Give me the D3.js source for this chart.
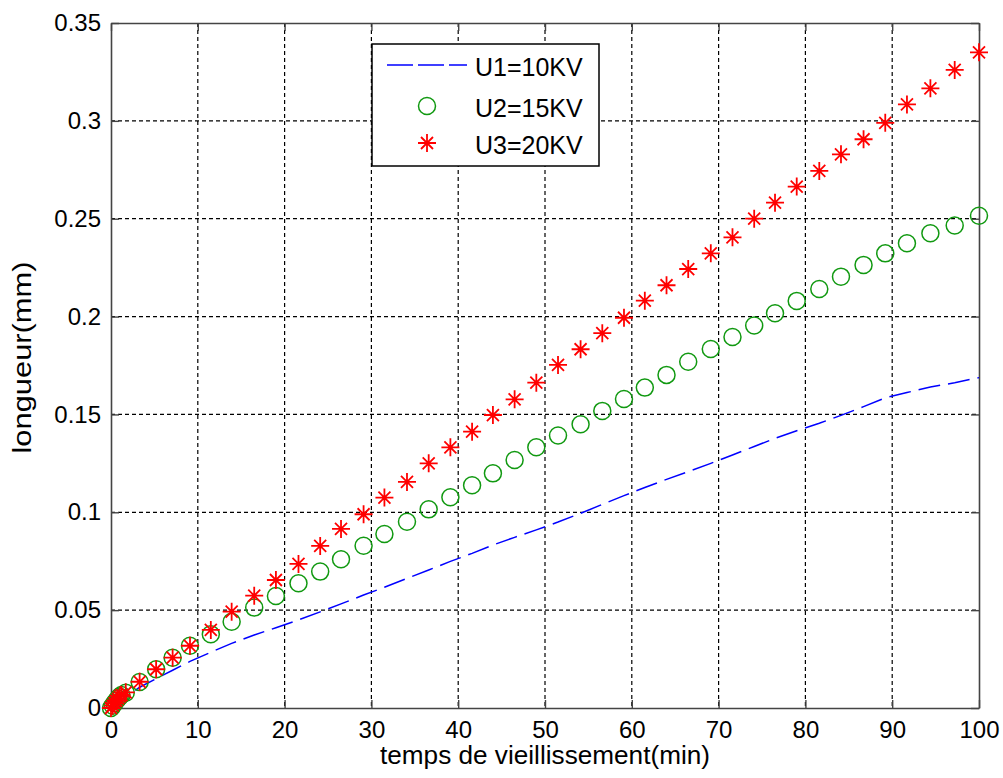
<!DOCTYPE html>
<html>
<head>
<meta charset="utf-8">
<script src="https://cdn.jsdelivr.net/npm/d3@7"></script>
<style>
    body { margin: 0; background: #fff; }
    text { font-family: Arial, "Liberation Sans", sans-serif; fill: #000; }
</style>
</head>
<body>
<div id="svgcontainer"></div>
<script>
// aging time (min), same sampling for all three voltages
const temps = [0, 0.2, 0.4, 0.6, 0.8, 1.0, 1.2, 1.7, 3.3, 5.2, 7.1, 9.1, 11.5, 13.9, 16.5, 19.0,
    21.6, 24.1, 26.5, 29.1, 31.5, 34.1, 36.6, 39.1, 41.6, 44.0, 46.5, 49.0, 51.5, 54.1, 56.6, 59.1,
    61.5, 64.0, 66.5, 69.1, 71.6, 74.1, 76.5, 79.0, 81.6, 84.1, 86.7, 89.2, 91.7, 94.4, 97.2, 100]

// length (mm)
const u1 = [0, 0.0007, 0.0014, 0.0020, 0.0027, 0.0033, 0.0039, 0.0055, 0.0106, 0.0150, 0.0193, 0.0238,
    0.0285, 0.0330, 0.0373, 0.0410, 0.0450, 0.0491, 0.0532, 0.0577, 0.0617, 0.0662, 0.0705, 0.0749,
    0.0790, 0.0833, 0.0872, 0.0910, 0.0950, 0.0995, 0.1040, 0.1085, 0.1127, 0.1168, 0.1208, 0.1250,
    0.1293, 0.1336, 0.1378, 0.1417, 0.1455, 0.1495, 0.1540, 0.1585, 0.1612, 0.1640, 0.1662, 0.1688]
const u2 = [0, 0.0012, 0.0025, 0.0037, 0.0048, 0.0058, 0.0066, 0.0078, 0.0133, 0.0198, 0.0257, 0.0318,
    0.0377, 0.0441, 0.0513, 0.0572, 0.0637, 0.0697, 0.0760, 0.0829, 0.0889, 0.0952, 0.1015, 0.1077,
    0.1138, 0.1199, 0.1267, 0.1332, 0.1392, 0.1450, 0.1518, 0.1579, 0.1637, 0.1702, 0.1769, 0.1834,
    0.1896, 0.1954, 0.2017, 0.2080, 0.2141, 0.2204, 0.2264, 0.2323, 0.2375, 0.2426, 0.2465, 0.2515]
const u3 = [0, 0.0012, 0.0025, 0.0037, 0.0048, 0.0058, 0.0066, 0.0080, 0.0134, 0.0198, 0.0257, 0.0318,
    0.0399, 0.0492, 0.0574, 0.0654, 0.0736, 0.0828, 0.0915, 0.0990, 0.1075, 0.1155, 0.1250, 0.1332,
    0.1412, 0.1497, 0.1577, 0.1662, 0.1753, 0.1833, 0.1915, 0.1994, 0.2081, 0.2160, 0.2243, 0.2323,
    0.2405, 0.2500, 0.2582, 0.2664, 0.2744, 0.2829, 0.2906, 0.2990, 0.3084, 0.3166, 0.3260, 0.3350]

const series_names = ['U1=10KV', 'U2=15KV', 'U3=20KV']
const x_ticks = [0, 10, 20, 30, 40, 50, 60, 70, 80, 90, 100]
const y_ticks = [0, 0.05, 0.1, 0.15, 0.2, 0.25, 0.3, 0.35]
const y_tick_labels = ['0', '0.05', '0.1', '0.15', '0.2', '0.25', '0.3', '0.35']
const x_title = 'temps de vieillissement(min)'
const y_title = 'longueur(mm)'

const margin = { top: 23, left: 111, right: 24, bottom: 70 },
    svg_width = 1003,
    svg_height = 778,
    graph_width = svg_width - margin.left - margin.right,
    graph_height = svg_height - margin.top - margin.bottom;

const svg = d3.select('#svgcontainer')
    .append('svg')
    .attr('width', svg_width)
    .attr('height', svg_height)

const g = svg.append('g')
    .attr('transform', 'translate(' + margin.left + ',' + margin.top + ')')

let xScale = d3.scaleLinear().domain([0, 100]).range([0, graph_width]),
    yScale = d3.scaleLinear().domain([0, 0.35]).range([graph_height, 0]);

// dashed grid (not on the frame itself)
g.append('g').selectAll('line')
    .data(x_ticks.slice(1, -1))
    .join('line')
    .attr('x1', d => xScale(d)).attr('x2', d => xScale(d))
    .attr('y1', 0).attr('y2', graph_height)
    .attr('stroke', '#000').attr('stroke-width', 1.2).attr('stroke-dasharray', '4,3')
g.append('g').selectAll('line')
    .data(y_ticks.slice(1, -1))
    .join('line')
    .attr('y1', d => yScale(d)).attr('y2', d => yScale(d))
    .attr('x1', 0).attr('x2', graph_width)
    .attr('stroke', '#000').attr('stroke-width', 1.2).attr('stroke-dasharray', '4,3')

// axes, ticks pointing inwards on all four sides
function style_axis(sel) {
    sel.attr('font-family', null).attr('font-size', null)
    sel.select('.domain').attr('stroke', '#444').attr('stroke-width', 1.6)
    sel.selectAll('.tick line').attr('stroke', '#444').attr('stroke-width', 1.4)
    sel.selectAll('.tick text').style('font-size', '24px')
}
g.append('g')
    .attr('transform', 'translate(0,' + graph_height + ')')
    .call(d3.axisBottom(xScale).tickValues(x_ticks).tickSize(-8).tickSizeOuter(0).tickPadding(13))
    .call(style_axis)
g.append('g')
    .call(d3.axisLeft(yScale).tickValues(y_ticks).tickFormat((d, i) => y_tick_labels[i])
        .tickSize(-8).tickSizeOuter(0).tickPadding(10))
    .call(style_axis)
g.append('g')
    .call(d3.axisTop(xScale).tickValues(x_ticks).tickFormat('').tickSize(-8).tickSizeOuter(0))
    .call(style_axis)
g.append('g')
    .attr('transform', 'translate(' + graph_width + ',0)')
    .call(d3.axisRight(yScale).tickValues(y_ticks).tickFormat('').tickSize(-8).tickSizeOuter(0))
    .call(style_axis)

// U1 dashed line
const line = d3.line().x((d, i) => xScale(temps[i])).y(d => yScale(d))
g.append('path')
    .datum(u1)
    .attr('d', line)
    .attr('fill', 'none')
    .attr('stroke', '#0000ff')
    .attr('stroke-width', 1.5)
    .attr('stroke-dasharray', '22,8')

// U2 circles
g.append('g').selectAll('circle')
    .data(u2)
    .join('circle')
    .attr('cx', (d, i) => xScale(temps[i]))
    .attr('cy', d => yScale(d))
    .attr('r', 8.5)
    .attr('fill', 'none')
    .attr('stroke', '#119911')
    .attr('stroke-width', 1.5)

// U3 stars (plus + cross)
const star_path = 'M-9,0H9M0,-9V9M-6,-6L6,6M-6,6L6,-6'
g.append('g').selectAll('path')
    .data(u3)
    .join('path')
    .attr('transform', (d, i) => 'translate(' + xScale(temps[i]) + ',' + yScale(d) + ')')
    .attr('d', star_path)
    .attr('fill', 'none')
    .attr('stroke', '#ff0000')
    .attr('stroke-width', 1.8)

// axis titles
svg.append('text')
    .attr('x', margin.left + graph_width / 2)
    .attr('y', 764)
    .attr('text-anchor', 'middle')
    .attr('textLength', 330)
    .attr('lengthAdjust', 'spacingAndGlyphs')
    .style('font-size', '25px')
    .text(x_title)
svg.append('text')
    .attr('transform', 'translate(31,' + (margin.top + graph_height / 2 - 8) + ') rotate(-90)')
    .attr('text-anchor', 'middle')
    .attr('textLength', 192)
    .attr('lengthAdjust', 'spacingAndGlyphs')
    .style('font-size', '25px')
    .text(y_title)

// legend
const legend = svg.append('g').attr('transform', 'translate(372,44)')
legend.append('rect')
    .attr('width', 227).attr('height', 122)
    .attr('fill', '#fff').attr('stroke', '#000').attr('stroke-width', 1.5)

const row_y = [21, 62, 99]
legend.append('line')
    .attr('x1', 15).attr('x2', 95).attr('y1', row_y[0]).attr('y2', row_y[0])
    .attr('stroke', '#0000ff').attr('stroke-width', 1.5).attr('stroke-dasharray', '26,5')
legend.append('circle')
    .attr('cx', 55).attr('cy', row_y[1]).attr('r', 8.5)
    .attr('fill', 'none').attr('stroke', '#119911').attr('stroke-width', 1.5)
legend.append('path')
    .attr('transform', 'translate(55,' + row_y[2] + ')')
    .attr('d', star_path)
    .attr('fill', 'none').attr('stroke', '#ff0000').attr('stroke-width', 1.8)

legend.selectAll('text.lab')
    .data(series_names)
    .join('text')
    .attr('class', 'lab')
    .attr('x', 103)
    .attr('y', (d, i) => row_y[i] + 11)
    .style('font-size', '25px')
    .text(d => d)
</script>
</body>
</html>
